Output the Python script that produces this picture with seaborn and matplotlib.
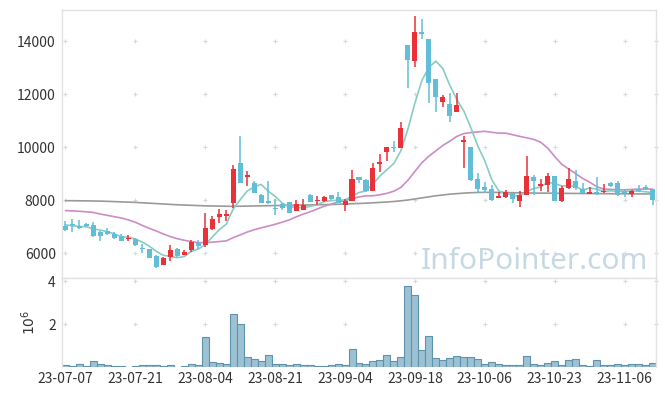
import numpy as np
import pandas as pd
import matplotlib
matplotlib.use("Agg")
import matplotlib.pyplot as plt
import seaborn as sns

# daily prices (KRW), 85 trading days
open_ = [7020, 7110, 7030, 7080, 7060, 6790, 6830, 6730, 6630, 6530,
         6520, 6190, 6140, 5890, 5560, 5860, 6150, 5940, 6100, 6370,
         6310, 6910, 7370, 7410, 7870, 9410, 8880, 8630, 8190, 7980,
         7700, 7850, 7910, 7600, 7620, 8200, 7960, 7960, 8180, 8100,
         7800, 7980, 8870, 8740, 8350, 9350, 9800, 10010, 9950, 13850,
         13250, 14340, 14080, 12570, 11690, 11620, 11310, 10180, 10010, 8790,
         8500, 8420, 8090, 8100, 8250, 7960, 8190, 8880, 8530, 8570,
         8910, 7980, 8470, 8720, 8420, 8230, 8310, 8290, 8630, 8650,
         8330, 8240, 8430, 8500, 8400]
high = [7220, 7270, 7250, 7150, 7160, 6820, 6930, 6790, 6720, 6690,
        6580, 6340, 6160, 5910, 5860, 6290, 6180, 6110, 6490, 6490,
        7500, 7400, 7650, 7620, 9320, 10420, 9110, 8730, 8230, 8720,
        8040, 7900, 7910, 8000, 8050, 8240, 8140, 8150, 8200, 8310,
        8030, 9130, 8870, 8780, 9380, 9720, 9990, 10240, 10930, 13850,
        14940, 14820, 14080, 12570, 11960, 12030, 12050, 10430, 10010, 9010,
        8690, 8570, 8310, 8380, 8280, 8350, 9660, 8940, 8780, 9010,
        8910, 8530, 9200, 9130, 8630, 8500, 8860, 8590, 8690, 8720,
        8380, 8380, 8570, 8570, 8400]
low = [6830, 6780, 6920, 6980, 6620, 6470, 6680, 6530, 6440, 6470,
       6280, 5990, 5800, 5420, 5560, 5700, 5860, 5920, 6040, 6140,
       6240, 6870, 7120, 7220, 7710, 8630, 8540, 8250, 7870, 7840,
       7430, 7620, 7520, 7570, 7620, 7910, 7810, 7940, 8000, 7870,
       7590, 7950, 8630, 8320, 8330, 9070, 9480, 9820, 9950, 12210,
       13030, 14060, 11650, 11310, 11500, 10930, 11310, 9200, 8730, 8250,
       8250, 7980, 8090, 8060, 7900, 7750, 8190, 8190, 8350, 8310,
       7980, 7940, 8400, 8380, 8280, 8230, 8190, 8250, 8500, 8150,
       8100, 8130, 8310, 8380, 7810]
close = [6870, 7060, 6960, 7020, 6640, 6650, 6730, 6580, 6470, 6570,
         6300, 6140, 5820, 5480, 5820, 6100, 5890, 6050, 6430, 6280,
         6940, 7300, 7460, 7460, 9170, 8650, 8940, 8280, 7900, 7900,
         7670, 7690, 7520, 7850, 7800, 7940, 7990, 8130, 8030, 7890,
         7960, 8780, 8760, 8340, 9220, 9420, 9990, 9950, 10730, 13280,
         14340, 14250, 12430, 11900, 11880, 11170, 11590, 10260, 8760, 8420,
         8380, 8010, 8150, 8310, 8040, 8190, 8910, 8730, 8600, 8910,
         7980, 8440, 8780, 8440, 8280, 8310, 8250, 8350, 8540, 8190,
         8250, 8350, 8350, 8420, 8000]

# moving averages
ma5 = [7060, 7030, 7000, 6990, 6908, 6865, 6800, 6724, 6613, 6598,
       6528, 6410, 6259, 6063, 5914, 5874, 5824, 5869, 6058, 6148,
       6317, 6599, 6881, 7087, 7665, 8008, 8337, 8501, 8589, 8335,
       8138, 7887, 7736, 7726, 7706, 7759, 7819, 7940, 7975, 7992,
       7997, 8156, 8282, 8345, 8611, 8903, 9145, 9384, 9862, 10675,
       11658, 12511, 13007, 13241, 12959, 12325, 11792, 11359, 10730, 10038,
       9479, 8767, 8345, 8254, 8179, 8141, 8317, 8433, 8493, 8667,
       8624, 8531, 8541, 8508, 8382, 8450, 8413, 8327, 8347, 8330,
       8317, 8337, 8337, 8312, 8274]
ma20 = [7600, 7590, 7575, 7555, 7530, 7470, 7420, 7370, 7320, 7250,
        7160, 7040, 6930, 6830, 6720, 6620, 6540, 6480, 6430, 6392,
        6396, 6408, 6433, 6455, 6582, 6682, 6792, 6877, 6949, 7016,
        7084, 7162, 7247, 7365, 7464, 7555, 7660, 7764, 7844, 7925,
        7976, 8050, 8115, 8159, 8161, 8199, 8252, 8335, 8477, 8746,
        9079, 9408, 9653, 9856, 10059, 10221, 10401, 10508, 10544, 10571,
        10592, 10554, 10524, 10522, 10463, 10401, 10347, 10286, 10180, 9961,
        9642, 9352, 9169, 8996, 8816, 8674, 8507, 8411, 8401, 8389,
        8383, 8400, 8410, 8415, 8413]
ma60 = [7975, 7973, 7970, 7967, 7963, 7958, 7950, 7940, 7930, 7920,
        7910, 7895, 7880, 7865, 7850, 7835, 7820, 7810, 7800, 7790,
        7780, 7775, 7770, 7765, 7762, 7765, 7770, 7775, 7780, 7785,
        7790, 7795, 7800, 7805, 7810, 7815, 7820, 7825, 7830, 7840,
        7850, 7860, 7870, 7880, 7895, 7910, 7925, 7945, 7970, 8000,
        8040, 8080, 8120, 8160, 8190, 8220, 8240, 8260, 8275, 8285,
        8290, 8290, 8285, 8280, 8275, 8270, 8265, 8262, 8260, 8258,
        8255, 8252, 8250, 8248, 8246, 8244, 8242, 8240, 8238, 8236,
        8234, 8232, 8230, 8228, 8226]

# volume in millions of shares
volume = [0.08, 0.03, 0.12, 0.03, 0.28, 0.12, 0.08, 0.03, 0.03, 0.01,
          0.03, 0.08, 0.08, 0.08, 0.03, 0.08, 0.01, 0.03, 0.12, 0.08,
          1.38, 0.22, 0.17, 0.12, 2.45, 1.98, 0.45, 0.36, 0.26, 0.54,
          0.12, 0.12, 0.08, 0.12, 0.08, 0.08, 0.03, 0.03, 0.08, 0.12,
          0.08, 0.82, 0.17, 0.12, 0.26, 0.33, 0.54, 0.26, 0.45, 3.75,
          3.33, 0.78, 1.43, 0.40, 0.31, 0.40, 0.50, 0.45, 0.45, 0.36,
          0.12, 0.22, 0.12, 0.08, 0.08, 0.08, 0.50, 0.12, 0.08, 0.17,
          0.26, 0.08, 0.31, 0.36, 0.08, 0.03, 0.31, 0.08, 0.08, 0.12,
          0.08, 0.12, 0.12, 0.08, 0.17]

date_labels = ["23-07-07", "23-07-21", "23-08-04", "23-08-21", "23-09-04",
               "23-09-18", "23-10-06", "23-10-23", "23-11-06"]
price_ticks = [6000, 8000, 10000, 12000, 14000]
vol_ticks = [2, 4]

RED = "#ea3039"
BLUE = "#62bed6"
TEAL = "#88ccc2"
PINK = "#cc8cc6"
GRAY = "#9a9a9a"
VOL_FILL = "#9cc1d3"
VOL_EDGE = "#5f93ad"
SPINE = "#e2e2e2"
TEXT = "#333333"

sns.set_style("white")
plt.rcParams['font.family'] = ['Noto Sans CJK KR', 'DejaVu Sans']

df = pd.DataFrame({"open": open_, "high": high, "low": low, "close": close,
                   "ma5": ma5, "ma20": ma20, "ma60": ma60, "volume": volume})
df["idx"] = np.arange(len(df))

fig = plt.figure(figsize=(6.65, 3.96), dpi=100)
W, H = 665, 396
ax = fig.add_axes([62 / W, 1 - 278 / H, 594 / W, 268 / H])
axv = fig.add_axes([62 / W, 1 - 367 / H, 594 / W, 89 / H])

# moving averages
ma_long = df.melt(id_vars="idx", value_vars=["ma60", "ma20", "ma5"],
                  var_name="ma", value_name="price")
sns.lineplot(data=ma_long, x="idx", y="price", hue="ma",
             palette={"ma5": TEAL, "ma20": PINK, "ma60": GRAY},
             linewidth=1.2, legend=False, ax=ax, zorder=2)

# candles
up = df["close"] >= df["open"]
colors = np.where(up, RED, BLUE)
body_low = df[["open", "close"]].min(axis=1)
body_h = (df["close"] - df["open"]).abs().clip(lower=40)
ax.vlines(df["idx"], df["low"], df["high"], colors=colors, linewidth=1.1, zorder=3)
ax.bar(df["idx"], body_h, bottom=body_low, width=0.72, color=colors,
       linewidth=0, zorder=4)

ax.text((648 - 62) / 594, (278 - 269) / 268, "InfoPointer.com", transform=ax.transAxes,
        ha="right", va="baseline", fontsize=21.5, color="#c6d9e3",
        family=["Noto Sans", "DejaVu Sans"], zorder=1)

# volume
sns.barplot(data=df, x="idx", y="volume", native_scale=True, width=1.0,
            color=VOL_FILL, edgecolor=VOL_EDGE, linewidth=0.8, saturation=1,
            errorbar=None, ax=axv, zorder=2)

# small grid crosses at tick intersections
xg = list(range(0, 81, 10)) + [84.5]
for a, yt in [(ax, price_ticks), (axv, vol_ticks)]:
    gx, gy = np.meshgrid(xg, yt)
    a.scatter(gx.ravel(), gy.ravel(), marker="+", s=9, color="#d9d9d9",
              linewidths=0.8, zorder=0, clip_on=False)

for a in (ax, axv):
    a.set_xlim(-0.5, 84.5)
    for s in a.spines.values():
        s.set_color(SPINE)
        s.set_linewidth(1)
    a.tick_params(length=0, labelsize=10, colors=TEXT, pad=4.5)
axv.spines["bottom"].set_visible(False)

ax.set_ylim(5057, 15170)
ax.set_yticks(price_ticks)
ax.set_xticks([])
ax.set_xlabel("")
ax.set_ylabel("")

axv.set_ylim(0, 4.14)
axv.set_yticks(vol_ticks)
axv.set_yticklabels([str(v) for v in vol_ticks])
axv.set_xticks(range(0, 81, 10))
axv.set_xticklabels(date_labels)
axv.set_xlabel("")
axv.set_ylabel(r"$10^6$", fontsize=10, color=TEXT, labelpad=7)
axv.tick_params(axis="x", pad=3.5)

fig.savefig("out.png", dpi=100)
